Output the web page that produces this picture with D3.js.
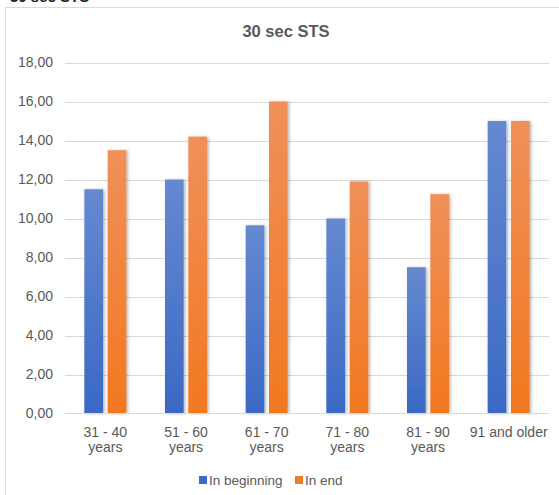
<!DOCTYPE html>
<html><head><meta charset="utf-8">
<script src="https://cdn.jsdelivr.net/npm/d3@7"></script>
<style>html,body{margin:0;padding:0;background:#fff;overflow:hidden}svg{display:block;font-family:"Liberation Sans",Arial,sans-serif}</style>
</head><body>
<svg id="c" width="559" height="495"></svg>
<script>
const categories = [["31 - 40","years"],["51 - 60","years"],["61 - 70","years"],["71 - 80","years"],["81 - 90","years"],["91 and older"]];
const seriesNames = ["In beginning","In end"];
const inBeginning = [11.5, 12.0, 9.65, 10.0, 7.5, 15.0];
const inEnd = [13.5, 14.2, 16.0, 11.9, 11.25, 15.0];
const yTicks = [0,2,4,6,8,10,12,14,16,18];

const svg = d3.select("#c");
const defs = svg.append("defs");
function grad(id, c0, c1){
  const g = defs.append("linearGradient").attr("id",id).attr("x1",0).attr("y1",0).attr("x2",0).attr("y2",1);
  g.append("stop").attr("offset","0%").attr("stop-color",c0);
  g.append("stop").attr("offset","100%").attr("stop-color",c1);
}
grad("gBlue","#6689d0","#3a69c5");
grad("gOrange","#f0905a","#f2781f");
const f = defs.append("filter").attr("id","sh").attr("x","-30%").attr("y","-10%").attr("width","160%").attr("height","120%");
f.append("feDropShadow").attr("dx",1.5).attr("dy",0.5).attr("stdDeviation",1.5).attr("flood-color","#000").attr("flood-opacity",0.3);

// outer chart border
svg.append("rect").attr("x",5.5).attr("y",7.5).attr("width",600).attr("height",600)
  .attr("fill","none").attr("stroke","#d9d9d9").attr("stroke-width",1);

// clipped text at top (cut off in the reference too)
svg.append("text").attr("x",10).attr("y",2).attr("font-size",15).attr("font-weight","bold").attr("fill","#222").text("30 sec STS");

const pLeft = 65, pRight = 549, pTop = 62.5, pBottom = 413.5;
const y = d3.scaleLinear().domain([0,18]).range([pBottom, pTop]);
const x0 = d3.scaleBand().domain(d3.range(categories.length)).range([pLeft,pRight]).padding(0);
const x1 = d3.scaleBand().domain([0,1]).range([-21,21]).paddingInner(0.2).paddingOuter(0);

// gridlines
svg.append("g").selectAll("line").data(yTicks.filter(t=>t>0)).join("line")
  .attr("x1",pLeft).attr("x2",pRight).attr("y1",d=>Math.round(y(d))+0.5).attr("y2",d=>Math.round(y(d))+0.5)
  .attr("stroke","#d9d9d9").attr("stroke-width",1);

// y labels
const yAxis = d3.axisLeft(y).tickValues(yTicks).tickSize(0).tickPadding(0).tickFormat(d=>d3.format(".2f")(d).replace(".",","));
const ya = svg.append("g").attr("transform",`translate(53,0)`).call(yAxis);
ya.select(".domain").remove();
ya.selectAll("text").attr("font-size",14).attr("fill","#595959").attr("font-family","Liberation Sans, Arial, sans-serif");

// bars
const data = categories.map((c,i)=>[inBeginning[i], inEnd[i]]);
const fills = ["url(#gBlue)","url(#gOrange)"];
const groups = svg.append("g").selectAll("g").data(data).join("g")
  .attr("transform",(d,i)=>`translate(${x0(i)+x0.bandwidth()/2},0)`);
groups.selectAll("rect").data(d=>d.map((v,k)=>({v,k}))).join("rect")
  .attr("x",d=>x1(d.k)).attr("width",x1.bandwidth())
  .attr("y",d=>y(d.v)).attr("height",d=>pBottom-0.5-y(d.v))
  .attr("fill",d=>fills[d.k]).attr("filter","url(#sh)");

// x axis line
svg.append("line").attr("x1",pLeft).attr("x2",pRight).attr("y1",pBottom).attr("y2",pBottom)
  .attr("stroke","#d9d9d9").attr("stroke-width",1);

// x labels
const xa = svg.append("g");
categories.forEach((lines,i)=>{
  const cx = x0(i)+x0.bandwidth()/2;
  const t = xa.append("text").attr("x",cx).attr("y",437)
    .attr("text-anchor","middle").attr("font-size",14).attr("fill","#595959");
  lines.forEach((s,j)=>t.append("tspan").attr("x",cx).attr("dy",j===0?0:15).text(s));
});

// title
svg.append("text").attr("x",286).attr("y",37).attr("text-anchor","middle")
  .attr("font-size",16.5).attr("font-weight","bold").attr("fill","#595959").text("30 sec STS");

// legend
const legColors = ["#3c6ac5","#ec7b24"];
const legX = [199, 295];
seriesNames.forEach((n,i)=>{
  svg.append("rect").attr("x",legX[i]).attr("y",476).attr("width",8).attr("height",8).attr("fill",legColors[i]);
  svg.append("text").attr("x",legX[i]+10).attr("y",485).attr("font-size",13.5).attr("fill","#595959").text(n);
});
</script>
</body></html>
